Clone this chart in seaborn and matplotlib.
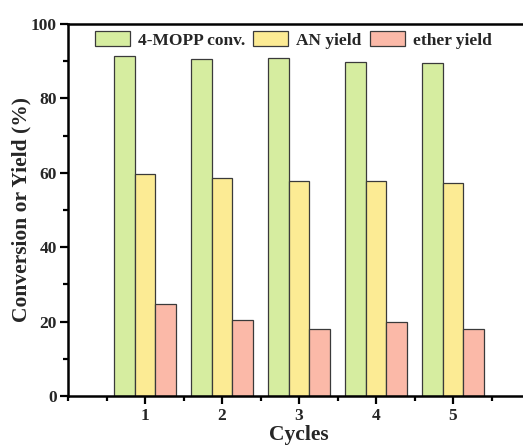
import seaborn as sns
import matplotlib.pyplot as plt
import pandas as pd
from matplotlib.ticker import MultipleLocator

sns.set_theme(style="ticks")
plt.rcParams['font.family'] = ['Liberation Serif', 'DejaVu Serif']
plt.rcParams['font.weight'] = 'bold'

# values
cycles = [1, 2, 3, 4, 5]
mopp_conv = [91.4, 90.6, 90.9, 89.8, 89.4]
an_yield = [59.7, 58.6, 57.7, 57.7, 57.2]
ether_yield = [24.8, 20.4, 18.0, 19.8, 17.9]
series_names = ["4-MOPP conv.", "AN yield", "ether yield"]
colors = ["#D6EDA0", "#FCEB94", "#FBB9A8"]

rows = []
for name, vals in zip(series_names, [mopp_conv, an_yield, ether_yield]):
    for c, v in zip(cycles, vals):
        rows.append({"Cycles": c, "value": v, "series": name})
df = pd.DataFrame(rows)

fig = plt.figure(figsize=(5.23, 4.47), dpi=100)
# axes runs a bit past the right edge, like the cropped original
ax = fig.add_axes([68 / 523, 51 / 447, 462 / 523, 372 / 447])

sns.barplot(data=df, x="Cycles", y="value", hue="series",
            palette=colors, saturation=1, native_scale=True,
            width=0.8, edgecolor="#3a3a3a", linewidth=0.9, ax=ax)

ax.set_xlim(0, 6)
ax.set_ylim(0, 100)
ax.set_xticks(cycles)
ax.xaxis.set_minor_locator(MultipleLocator(0.5))
ax.yaxis.set_major_locator(MultipleLocator(20))
ax.yaxis.set_minor_locator(MultipleLocator(10))
ax.tick_params(axis="both", which="major", direction="out", length=6,
               width=1.6, labelsize=12.5, color="black")
ax.tick_params(axis="x", which="major", pad=3)
ax.tick_params(axis="y", which="major", pad=2)
ax.tick_params(axis="both", which="minor", direction="out", length=3.5,
               width=1.6, color="black")
for lab in ax.get_xticklabels() + ax.get_yticklabels():
    lab.set_fontweight("bold")

for side in ["left", "bottom", "top"]:
    ax.spines[side].set_linewidth(1.8)
    ax.spines[side].set_color("black")
ax.spines["right"].set_visible(False)

ax.set_xlabel("Cycles", fontsize=15.5, fontweight="bold")
ax.set_ylabel("Conversion or Yield (%)", fontsize=15.5, fontweight="bold")
ax.xaxis.set_label_coords(0.5, -0.077)
ax.yaxis.set_label_coords(-0.080, 0.5)

ax.legend(loc="upper left", bbox_to_anchor=(27 / 462, 1 - 7.5 / 372), ncol=3,
          frameon=False, handlelength=2.0, handleheight=0.95,
          columnspacing=0.5, handletextpad=0.45, borderaxespad=0,
          borderpad=0, prop={"weight": "bold", "size": 12.5})

fig.savefig("out.png", dpi=100)
